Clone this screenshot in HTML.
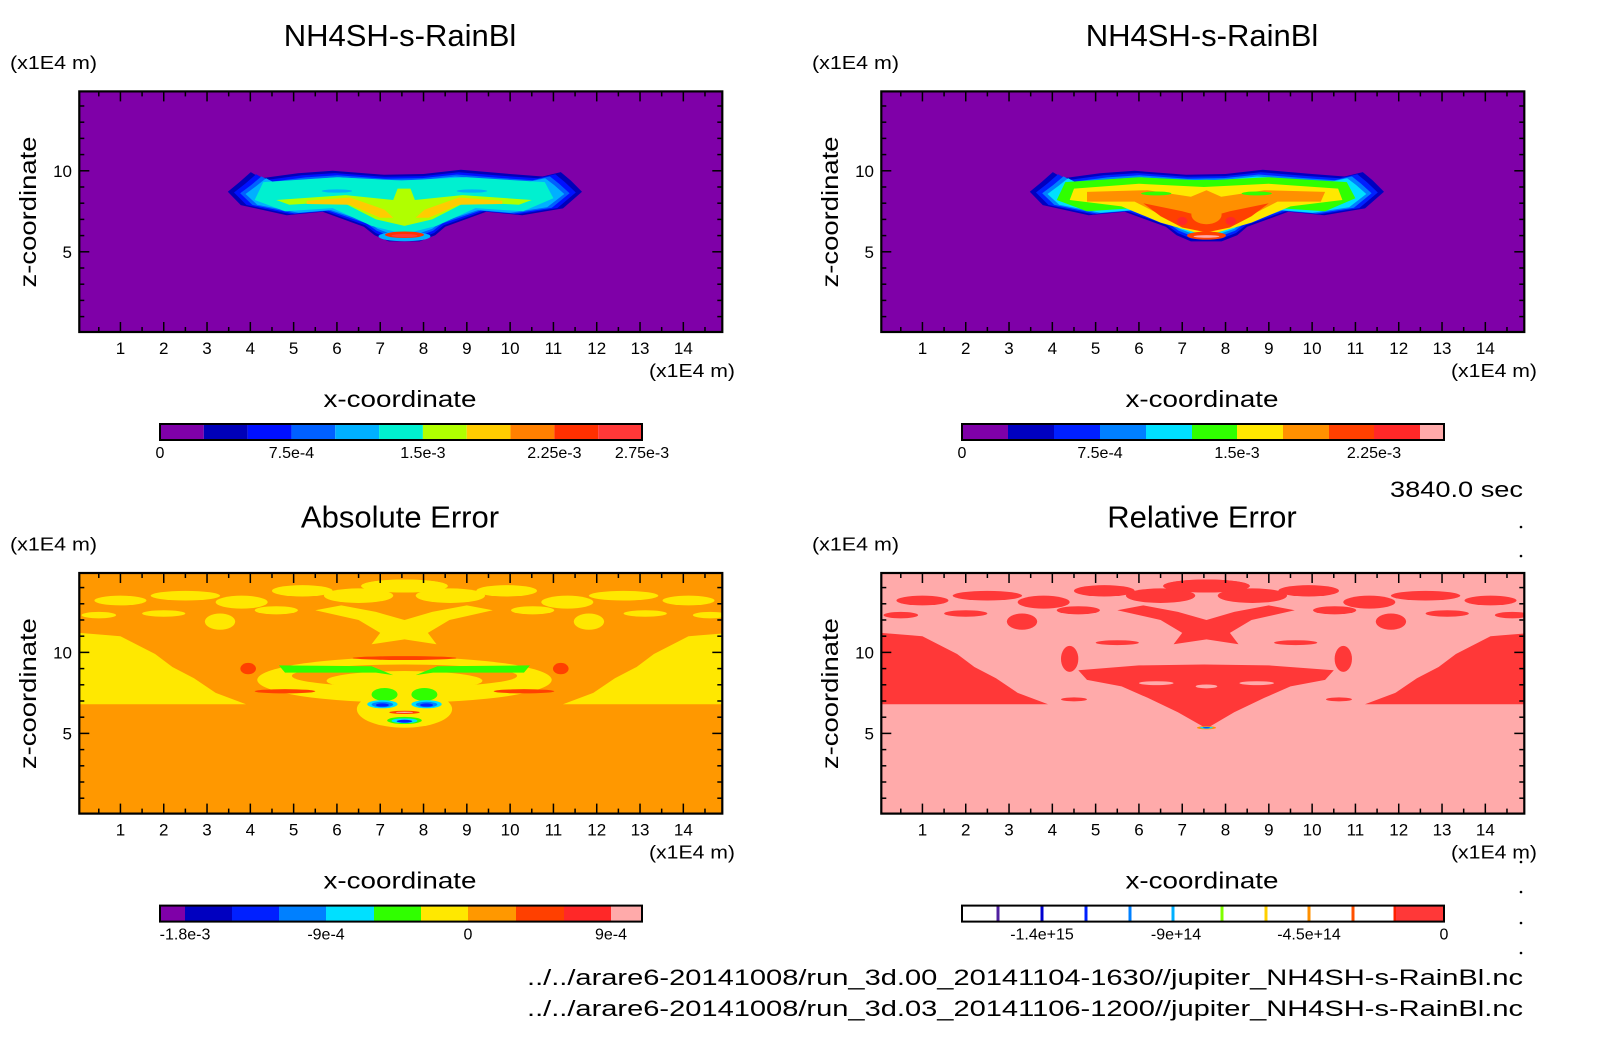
<!DOCTYPE html>
<html><head><meta charset="utf-8"><style>
html,body{margin:0;padding:0;background:#fff}
svg{display:block}
text{font-family:"Liberation Sans",sans-serif;fill:#000}
</style></head><body>
<svg id="s" width="1604" height="1054" viewBox="0 0 1604 1054" xmlns="http://www.w3.org/2000/svg">
<defs id="defs"></defs>
</svg>
<script>
// ---------- data (data units: x,z in 1E4 m) ----------
const xTicks=[1,2,3,4,5,6,7,8,9,10,11,12,13,14];
const zTicks=[5,10];
const xDomain=[0.05,14.9];
const zDomain=[0.05,14.9];
const MIRROR=15.12;
const outerBlob=[[3.48,8.71],[3.75,9.3],[4.01,9.92],[4.25,9.54],[5.1,9.85],[5.9,10.0],[7.09,9.75],[8.0,9.8],[8.86,10.06],[10.0,9.8],[10.75,9.65],[11.17,9.92],[11.4,9.4],[11.66,8.71],[11.22,7.68],[10.28,7.26],[9.45,7.47],[8.5,6.54],[8.27,6.02],[7.91,5.64],[7.2,5.64],[6.87,6.02],[6.62,6.54],[5.67,7.47],[4.84,7.26],[3.78,7.88]];
const cyanBand=[[4.3,9.3],[6,9.6],[7.5,9.4],[9,9.6],[10.8,9.3],[11.0,8.3],[10.3,7.5],[9.2,7.7],[8.3,6.6],[7.56,6.1],[6.8,6.6],[5.9,7.7],[4.8,7.5],[4.1,8.2]];
const tlArms=[[4.6,8.2],[6.2,8.5],[7.3,8.2],[7.4,8.9],[7.7,8.9],[7.8,8.2],[8.9,8.5],[10.5,8.2],[10.2,7.9],[9.0,8.1],[8.2,7.0],[7.56,6.6],[6.9,7.0],[6.1,8.1],[4.9,7.9]];
const tlThin=[[5.3,8.15],[6.3,8.35],[7.1,7.6],[7.3,7.1],[7.0,7.1],[6.3,7.9],[5.3,7.95]];
const trYellow=[[4.5,8.9],[6,9.2],[7.5,9.0],[9,9.2],[10.6,8.9],[10.7,8.2],[9.5,7.8],[8.6,6.8],[7.56,6.0],[6.5,6.8],[5.6,7.8],[4.4,8.2]];
const trOrange=[[4.8,8.7],[6.2,8.8],[7.2,8.4],[7.56,8.8],[7.9,8.4],[8.9,8.8],[10.3,8.7],[10.2,8.1],[9.2,8.1],[8.4,7.0],[7.56,6.25],[6.7,7.0],[5.9,8.1],[4.8,8.1]];
const trRedV=[[6.1,8.0],[7.0,7.5],[7.56,7.1],[8.1,7.5],[9.0,8.0],[8.6,7.2],[8.1,6.5],[7.56,6.2],[7.0,6.5],[6.5,7.2]];
const sideRegion=[[0.05,6.8],[3.9,6.8],[3.5,7.2],[3.2,7.5],[2.7,8.4],[2.2,9.1],[1.8,9.9],[1.0,11.0],[0.05,11.2]];
const topPatches=[[1.0,13.2,0.6,0.3],[2.5,13.5,0.8,0.3],[3.8,13.1,0.6,0.4],[5.2,13.8,0.7,0.35],[6.5,13.5,0.8,0.45],[7.56,14.1,1.0,0.4],[3.3,11.9,0.35,0.5],[2.0,12.4,0.5,0.2],[4.6,12.6,0.5,0.25],[0.5,12.3,0.4,0.2]];
const topX=[[5.5,12.6],[6.5,12.0],[7.0,11.2],[6.8,10.5],[7.56,10.8],[8.3,10.5],[8.1,11.2],[8.6,12.0],[9.6,12.6],[9.0,12.9],[8.2,12.5],[7.56,12.0],[6.9,12.5],[6.1,12.9]];
const brCentral=[[4.6,8.9],[6,9.2],[7.5,9.25],[9,9.2],[10.5,8.9],[10.3,8.3],[9.5,7.9],[8.9,7.2],[8.2,6.3],[7.56,5.3],[6.9,6.3],[6.2,7.2],[5.6,7.9],[4.8,8.3]];
const blGreenArm=[[4.66,9.2],[6.8,9.15],[7.3,8.6],[6.9,8.75],[4.8,8.75]];
const cbTop1=['#7f00a8','#0000b8','#0010ff','#0060ff','#00b0ff','#00f0d0','#b0ff00','#ffcc00','#ff8000','#ff3000','#ff3838'];
const cbTop2=['#7f00a8','#0000c0','#0020ff','#0080ff','#00e0ff','#30ff00','#ffe800','#ff9000','#ff4000','#ff2828','#ffaaaa'];
const cbAbs=['#7f00a8','#0000c0','#0020ff','#0080ff','#00e0ff','#30ff00','#ffe800','#ff9800','#ff4000','#ff2828','#ffaaaa'];
const cbRelLines=['#5020a0','#0000d0','#0020ff','#0080ff','#00b0ff','#80ff00','#ffd000','#ff9000','#ff5000','#ff2000'];
const cbTop1Labels=['0','7.5e-4','1.5e-3','2.25e-3','2.75e-3'];
const cbTop1LabelIdx=[0,3,6,9,11];
const cbTop2Labels=['0','7.5e-4','1.5e-3','2.25e-3'];
const cbTop2LabelIdx=[0,3,6,9];
const cbAbsLabels=['-1.8e-3','-9e-4','0','9e-4'];
const cbAbsLabelIdx=[1,4,7,10];
const cbRelLabels=['-1.4e+15','-9e+14','-4.5e+14','0'];

// ---------- helpers ----------
const S=document.getElementById('s'),NS='http://www.w3.org/2000/svg';
function mk(tag,attrs,parent){const e=document.createElementNS(NS,tag);for(const k in attrs)e.setAttribute(k,attrs[k]);(parent||S).appendChild(e);return e;}
function txt(x,y,str,size,anchor,parent,extra){const t=mk('text',Object.assign({x:x,y:y,'font-size':size,'text-anchor':anchor||'start'},extra||{}),parent);t.textContent=str;return t;}
const PX0=79.3,PX1=722.3,PY0=91.4,PY1=332;
function X(v,ox){return ox+PX0+(v-xDomain[0])/(xDomain[1]-xDomain[0])*(PX1-PX0);}
function Z(v,oy){return oy+PY1-(v-zDomain[0])/(zDomain[1]-zDomain[0])*(PY1-PY0);}
function scalePts(pts,sx,sz,cz){return pts.map(p=>[7.56+(p[0]-7.56)*sx,cz+(p[1]-cz)*sz]);}
function mirrorPts(pts){return pts.map(p=>[MIRROR-p[0],p[1]]);}

function panel(ox,oy,id,title,bg,shapes){
  const g=mk('g',{});
  
  
  const cp=mk('clipPath',{id:'cp'+id},document.getElementById('defs'));
  mk('rect',{x:ox+PX0,y:oy+PY0,width:PX1-PX0,height:PY1-PY0},cp);
  const tt=txt(ox+400,oy+46,title,31,'middle',g);
  
  const f=mk('g',{'clip-path':'url(#cp'+id+')'},g);
  
  
  const bgr=mk('rect',{x:ox+PX0,y:oy+PY0,width:PX1-PX0,height:PY1-PY0,fill:bg},f);
  
  
  shapes.forEach(sh=>{
    const list=[sh];
    if(sh.m){const c=Object.assign({},sh);if(c.p)c.p=mirrorPts(c.p);if(c.e)c.e=[MIRROR-c.e[0],c.e[1],c.e[2],c.e[3]];list.push(c);}
    list.forEach(s=>{
      let el;
      if(s.p){el=mk('polygon',{points:s.p.map(q=>X(q[0],ox).toFixed(1)+','+Z(q[1],oy).toFixed(1)).join(' '),fill:s.c,'stroke-linejoin':'round'},f);}
      else{el=mk('ellipse',{cx:X(s.e[0],ox),cy:Z(s.e[1],oy),rx:s.e[2]*(PX1-PX0)/(xDomain[1]-xDomain[0]),ry:s.e[3]*(PY1-PY0)/(zDomain[1]-zDomain[0]),fill:s.c},f);}
      
      
    });
  });
  const fr=mk('rect',{x:ox+PX0,y:oy+PY0,width:PX1-PX0,height:PY1-PY0,fill:'none',stroke:'#000','stroke-width':2.2},g);
  
  for(let v=0.5;v<=14.5;v+=0.5){
    const major=Math.abs(v-Math.round(v))<1e-6,L=major?10:5,x=X(v,ox);
    mk('line',{x1:x,x2:x,y1:oy+PY1,y2:oy+PY1-L,stroke:'#000','stroke-width':1.5},g);
    mk('line',{x1:x,x2:x,y1:oy+PY0,y2:oy+PY0+L,stroke:'#000','stroke-width':1.5},g);
  }
  xTicks.forEach(v=>{const t=txt(X(v,ox),oy+354,String(v),17,'middle',g);});
  for(let v=1;v<=14;v++){
    const major=zTicks.includes(v),L=major?10:5,y=Z(v,oy);
    mk('line',{x1:ox+PX0,x2:ox+PX0+L,y1:y,y2:y,stroke:'#000','stroke-width':1.5},g);
    mk('line',{x1:ox+PX1,x2:ox+PX1-L,y1:y,y2:y,stroke:'#000','stroke-width':1.5},g);
  }
  zTicks.forEach(v=>{const t=txt(ox+72,Z(v,oy)+6,String(v),17,'end',g);});
  let t=txt(ox+10,oy+69,'(x1E4 m)',18,'start',g,{textLength:87,lengthAdjust:'spacingAndGlyphs'});
  t=txt(ox+649,oy+377,'(x1E4 m)',18,'start',g,{textLength:86,lengthAdjust:'spacingAndGlyphs'});
  t=txt(ox+400,oy+407,'x-coordinate',23,'middle',g,{textLength:153,lengthAdjust:'spacingAndGlyphs'});
  t=txt(0,0,'z-coordinate',23,'middle',g,{transform:'translate('+(ox+36)+','+(oy+212)+') rotate(-90)',textLength:151,lengthAdjust:'spacingAndGlyphs'});
  return g;
}
function colorbar(ox,oy,id,bounds,colors,labels,labelIdx){
  const g=mk('g',{});
  
  
  for(let i=0;i<colors.length;i++){
    const r=mk('rect',{x:ox+bounds[i],y:oy+424,width:bounds[i+1]-bounds[i],height:16,fill:colors[i]},g);
    
  }
  mk('rect',{x:ox+160,y:oy+424,width:482,height:16,fill:'none',stroke:'#000','stroke-width':2},g);
  labels.forEach((l,i)=>{const t=txt(ox+bounds[labelIdx[i]],oy+458,l,16,'middle',g);});
}
function evenBounds(n,first){const b=[160];const w=(642-160-first)/(n-1);b.push(160+first);for(let i=2;i<=n;i++)b.push(160+first+(i-1)*w);return b;}

const B1=outerBlob,B2=scalePts(outerBlob,0.965,0.93,8.0),B3=scalePts(outerBlob,0.93,0.86,8.0),B4=scalePts(outerBlob,0.9,0.8,8.0);
panel(0,0,'simulation-a','NH4SH-s-RainBl','#7f00a8',[
 {c:cbTop1[1],p:B1},{c:cbTop1[2],p:B2},{c:cbTop1[3],p:B3},{c:cbTop1[4],p:B4},
 {c:cbTop1[5],p:cyanBand},{c:cbTop1[6],p:tlArms},{c:cbTop1[7],p:tlThin,m:1},
 {c:cbTop1[4],e:[6.0,8.75,0.35,0.1],m:1},
 {c:cbTop1[4],e:[7.56,5.95,0.6,0.3]},{c:cbTop1[9],e:[7.56,6.05,0.45,0.2]},{c:cbTop1[10],e:[7.56,6.0,0.3,0.1]}
]);
panel(802,0,'simulation-b','NH4SH-s-RainBl','#7f00a8',[
 {c:cbTop2[1],p:B1},{c:cbTop2[2],p:B2},{c:cbTop2[3],p:B3},{c:cbTop2[4],p:B4},
 {c:cbTop2[5],p:cyanBand},{c:cbTop2[6],p:trYellow},{c:cbTop2[7],p:trOrange},
 {c:cbTop2[5],e:[6.4,8.6,0.35,0.12],m:1},{c:cbTop2[5],e:[7.56,9.25,0.5,0.2]},
 {c:cbTop2[8],p:trRedV},{c:cbTop2[7],e:[7.56,7.3,0.35,0.6]},{c:cbTop2[9],e:[7.0,6.9,0.12,0.25],m:1},
 {c:cbTop2[8],e:[7.56,6.0,0.45,0.25]},{c:cbTop2[10],e:[7.56,5.95,0.3,0.08]}
]);
panel(0,481.6,'absolute-error','Absolute Error','#ff9800',[
 {c:'#ffe800',p:sideRegion,m:1},
 ...topPatches.map(e=>({c:'#ffe800',e:e,m:1})),
 {c:'#ffe800',p:topX},
 {c:'#ffe800',e:[7.56,8.3,3.4,1.4]},{c:'#ffe800',e:[7.56,6.5,1.1,1.15]},
 {c:'#ff9800',e:[7.56,8.55,2.6,0.7]},{c:'#ffe800',e:[7.56,8.25,1.8,0.6]},
 {c:'#ff4000',e:[7.56,9.65,1.2,0.12]},{c:'#ff4000',e:[3.95,9.0,0.18,0.35],m:1},
 {c:'#ff4000',e:[4.8,7.6,0.7,0.13],m:1},
 {c:'#30ff00',p:blGreenArm,m:1},
 {c:'#30ff00',e:[7.1,7.4,0.3,0.4],m:1},
 {c:'#00e0ff',e:[7.05,6.8,0.35,0.25],m:1},{c:'#0080ff',e:[7.05,6.78,0.25,0.17],m:1},{c:'#0020ff',e:[7.05,6.75,0.15,0.1],m:1},
 {c:'#ff4000',e:[7.56,6.3,0.35,0.1]},{c:'#ffaaaa',e:[7.56,6.3,0.2,0.04]},
 {c:'#30ff00',e:[7.56,5.8,0.4,0.22]},{c:'#00e0ff',e:[7.56,5.78,0.3,0.15]},{c:'#0020ff',e:[7.56,5.75,0.18,0.09]}
]);
panel(802,481.6,'relative-error','Relative Error','#ffaaaa',[
 {c:'#ff3838',p:sideRegion,m:1},
 ...topPatches.map(e=>({c:'#ff3838',e:e,m:1})),
 {c:'#ff3838',p:topX},
 {c:'#ff3838',p:brCentral},
 {c:'#ffaaaa',e:[6.4,8.1,0.4,0.12],m:1},{c:'#ffaaaa',e:[7.56,7.9,0.25,0.12]},
 {c:'#ff3838',e:[4.4,9.6,0.2,0.8],m:1},{c:'#ff3838',e:[5.5,10.6,0.5,0.15],m:1},
 {c:'#ff3838',e:[4.5,7.1,0.3,0.12],m:1},
 {c:'#ff9000',e:[7.56,5.35,0.22,0.1]},{c:'#00e0ff',e:[7.56,5.35,0.15,0.06]},{c:'#0020ff',e:[7.56,5.35,0.08,0.03]}
]);

colorbar(0,0,'simulation-a',evenBounds(11,43.8),cbTop1,cbTop1Labels,cbTop1LabelIdx);
colorbar(802,0,'simulation-b',[160,206,252,298,344,390,435,481,527,572,618,642],cbTop2,cbTop2Labels,cbTop2LabelIdx);
colorbar(0,481.6,'absolute-error',[160,185,232,279,326,374,421,468,516,564,611,642],cbAbs,cbAbsLabels,cbAbsLabelIdx);
(function(){
  const ox=802,oy=481.6;
  const g=mk('g',{});
  
  
  mk('rect',{x:ox+160,y:oy+424,width:482,height:16,fill:'#fff'},g);
  const lb=[196,240,284,328,371,420,464,507,551,593];
  cbRelLines.forEach((c,i)=>{const r=mk('rect',{x:ox+lb[i]-1.5,y:oy+424,width:3,height:16,fill:c},g);});
  mk('rect',{x:ox+594,y:oy+424,width:48,height:16,fill:'#ff3838'},g);
  mk('rect',{x:ox+160,y:oy+424,width:482,height:16,fill:'none',stroke:'#000','stroke-width':2},g);
  const li=[240,374,507,642];
  cbRelLabels.forEach((l,i)=>{const t=txt(ox+li[i],oy+458,l,16,'middle',g);});
})();

let t=txt(1523,497,'3840.0 sec',22,'end',null,{textLength:133,lengthAdjust:'spacingAndGlyphs'});
t=txt(1523,985,'../../arare6-20141008/run_3d.00_20141104-1630//jupiter_NH4SH-s-RainBl.nc',22,'end',null,{textLength:996,lengthAdjust:'spacingAndGlyphs'});
t=txt(1523,1016,'../../arare6-20141008/run_3d.03_20141106-1200//jupiter_NH4SH-s-RainBl.nc',22,'end',null,{textLength:996,lengthAdjust:'spacingAndGlyphs'});
[527,556,862,892,923,953].forEach(y=>{const d=mk('circle',{cx:1521,cy:y,r:1.3,fill:'#000'});});
</script>
</body></html>
